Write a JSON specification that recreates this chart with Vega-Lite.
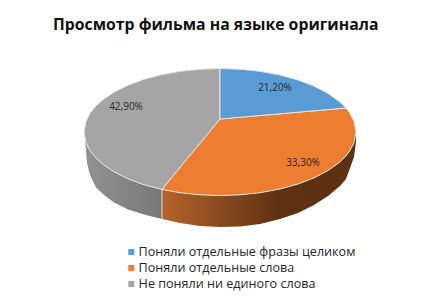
{
"$schema":"https://vega.github.io/schema/vega-lite/v6.json",
"width":423,"height":308,"padding":0,"autosize":{"type":"none"},"background":"white",
"view":{"stroke":null},
"title":{"text":"Просмотр фильма на языке оригинала","font":"Open Sans","fontSize":15.8,"fontWeight":"bold","color":"#111111","anchor":"start","frame":"group","dx":53,"offset":-46,"baseline":"alphabetic"},
"datasets":{
"wallGray":[{"x":85,"y":138,"y2":140},{"x":87,"y":146,"y2":163},{"x":90,"y":150.6,"y2":175},{"x":96,"y":158.1,"y2":187.5},{"x":104,"y":165.1,"y2":195},{"x":114,"y":171.8,"y2":202.5},{"x":128,"y":178.8,"y2":209.5},{"x":144,"y":184.7,"y2":214.5},{"x":162,"y":189.4,"y2":219}],
"wallOrange":[{"x":162,"y":189.4,"y2":219},{"x":180,"y":192.7,"y2":223},{"x":200,"y":194.8,"y2":226},{"x":220,"y":195.5,"y2":227},{"x":240,"y":194.8,"y2":226.5},{"x":260,"y":192.7,"y2":224},{"x":280,"y":189,"y2":219},{"x":298,"y":184,"y2":213},{"x":314,"y":177.9,"y2":205},{"x":328,"y":170.6,"y2":196},{"x":340,"y":161.9,"y2":186},{"x":346,"y":155.9,"y2":179},{"x":350,"y":150.6,"y2":168},{"x":354,"y":142.8,"y2":157},{"x":356,"y":132,"y2":142}],
"edge":[{"x":162,"y":189.4,"y2":219}],
"top":[
{"part":"Не поняли ни единого слова","x":84,"y":132,"y2":132},{"part":"Не поняли ни единого слова","x":86,"y":121.2,"y2":142.8},{"part":"Не поняли ни единого слова","x":90,"y":113.4,"y2":150.6},{"part":"Не поняли ни единого слова","x":96,"y":105.9,"y2":158.1},{"part":"Не поняли ни единого слова","x":104,"y":98.9,"y2":165.1},{"part":"Не поняли ни единого слова","x":114,"y":92.2,"y2":171.8},{"part":"Не поняли ни единого слова","x":128,"y":85.2,"y2":178.8},{"part":"Не поняли ни единого слова","x":144,"y":79.3,"y2":184.7},{"part":"Не поняли ни единого слова","x":162,"y":74.6,"y2":189.4},{"part":"Не поняли ни единого слова","x":180,"y":71.3,"y2":167.5},{"part":"Не поняли ни единого слова","x":200,"y":69.2,"y2":143.3},{"part":"Не поняли ни единого слова","x":220,"y":68.5,"y2":119},
{"part":"Поняли отдельные слова","x":162,"y":189.4,"y2":189.4},{"part":"Поняли отдельные слова","x":180,"y":167.5,"y2":192.7},{"part":"Поняли отдельные слова","x":200,"y":143.3,"y2":194.8},{"part":"Поняли отдельные слова","x":220,"y":119,"y2":195.5},{"part":"Поняли отдельные слова","x":240,"y":117.3,"y2":194.8},{"part":"Поняли отдельные слова","x":260,"y":115.5,"y2":192.7},{"part":"Поняли отдельные слова","x":280,"y":113.8,"y2":189},{"part":"Поняли отдельные слова","x":298,"y":112.2,"y2":184},{"part":"Поняли отдельные слова","x":314,"y":110.8,"y2":177.9},{"part":"Поняли отдельные слова","x":328,"y":109.6,"y2":170.6},{"part":"Поняли отдельные слова","x":340,"y":108.5,"y2":161.9},{"part":"Поняли отдельные слова","x":346,"y":108,"y2":155.9},{"part":"Поняли отдельные слова","x":350,"y":113.4,"y2":150.6},{"part":"Поняли отдельные слова","x":354,"y":121.2,"y2":142.8},{"part":"Поняли отдельные слова","x":356,"y":132,"y2":132},
{"part":"Поняли отдельные фразы целиком","x":220,"y":68.5,"y2":119},{"part":"Поняли отдельные фразы целиком","x":240,"y":69.2,"y2":117.3},{"part":"Поняли отдельные фразы целиком","x":260,"y":71.3,"y2":115.5},{"part":"Поняли отдельные фразы целиком","x":280,"y":75,"y2":113.8},{"part":"Поняли отдельные фразы целиком","x":298,"y":80,"y2":112.2},{"part":"Поняли отдельные фразы целиком","x":314,"y":86.1,"y2":110.8},{"part":"Поняли отдельные фразы целиком","x":328,"y":93.4,"y2":109.6},{"part":"Поняли отдельные фразы целиком","x":340,"y":102.1,"y2":108.5},{"part":"Поняли отдельные фразы целиком","x":346,"y":108.1,"y2":108}
],
"labels":[{"x":275,"y":88,"label":"21,20%"},{"x":303,"y":163,"label":"33,30%"},{"x":126,"y":107,"label":"42,90%"}]
},
"encoding":{
"x":{"field":"x","type":"quantitative","axis":null,"scale":{"domain":[0,423],"nice":false,"zero":false}},
"y":{"field":"y","type":"quantitative","axis":null,"scale":{"domain":[308,0],"nice":false,"zero":false}}
},
"layer":[
{"data":{"name":"wallGray"},"mark":{"type":"area","color":{"gradient":"linear","x1":0,"y1":0,"x2":1,"y2":0,"stops":[{"offset":0,"color":"#929292"},{"offset":1,"color":"#787878"}]}},"encoding":{"y2":{"field":"y2"}}},
{"data":{"name":"wallOrange"},"mark":{"type":"area","color":{"gradient":"linear","x1":0,"y1":0,"x2":1,"y2":0,"stops":[{"offset":0,"color":"#b5642a"},{"offset":0.6,"color":"#5f3113"},{"offset":1,"color":"#5c3012"}]}},"encoding":{"y2":{"field":"y2"}}},
{"data":{"name":"edge"},"mark":{"type":"rule","color":"#d9d9d9","strokeWidth":1},"encoding":{"y2":{"field":"y2"}}},
{"data":{"name":"top"},"mark":{"type":"area","stroke":"#e6e6e6","strokeWidth":1,"opacity":1},"encoding":{"y2":{"field":"y2"},
"color":{"field":"part","type":"nominal","sort":null,"scale":{"domain":["Поняли отдельные фразы целиком","Поняли отдельные слова","Не поняли ни единого слова"],"range":["#5b9bd5","#ed7d31","#a5a5a5"]},
"legend":{"title":null,"orient":"none","legendX":125,"legendY":244,"symbolType":"square","symbolSize":36,"symbolStrokeWidth":0,"labelFont":"Open Sans","labelFontSize":12.6,"labelColor":"#262626","rowPadding":0,"labelOffset":1,"symbolOpacity":1,"clipHeight":16,"labelLimit":300}}}},
{"data":{"name":"labels"},"mark":{"type":"text","font":"Open Sans","fontSize":10,"color":"#262626"},"encoding":{"text":{"field":"label","type":"nominal"}}}
]
}
